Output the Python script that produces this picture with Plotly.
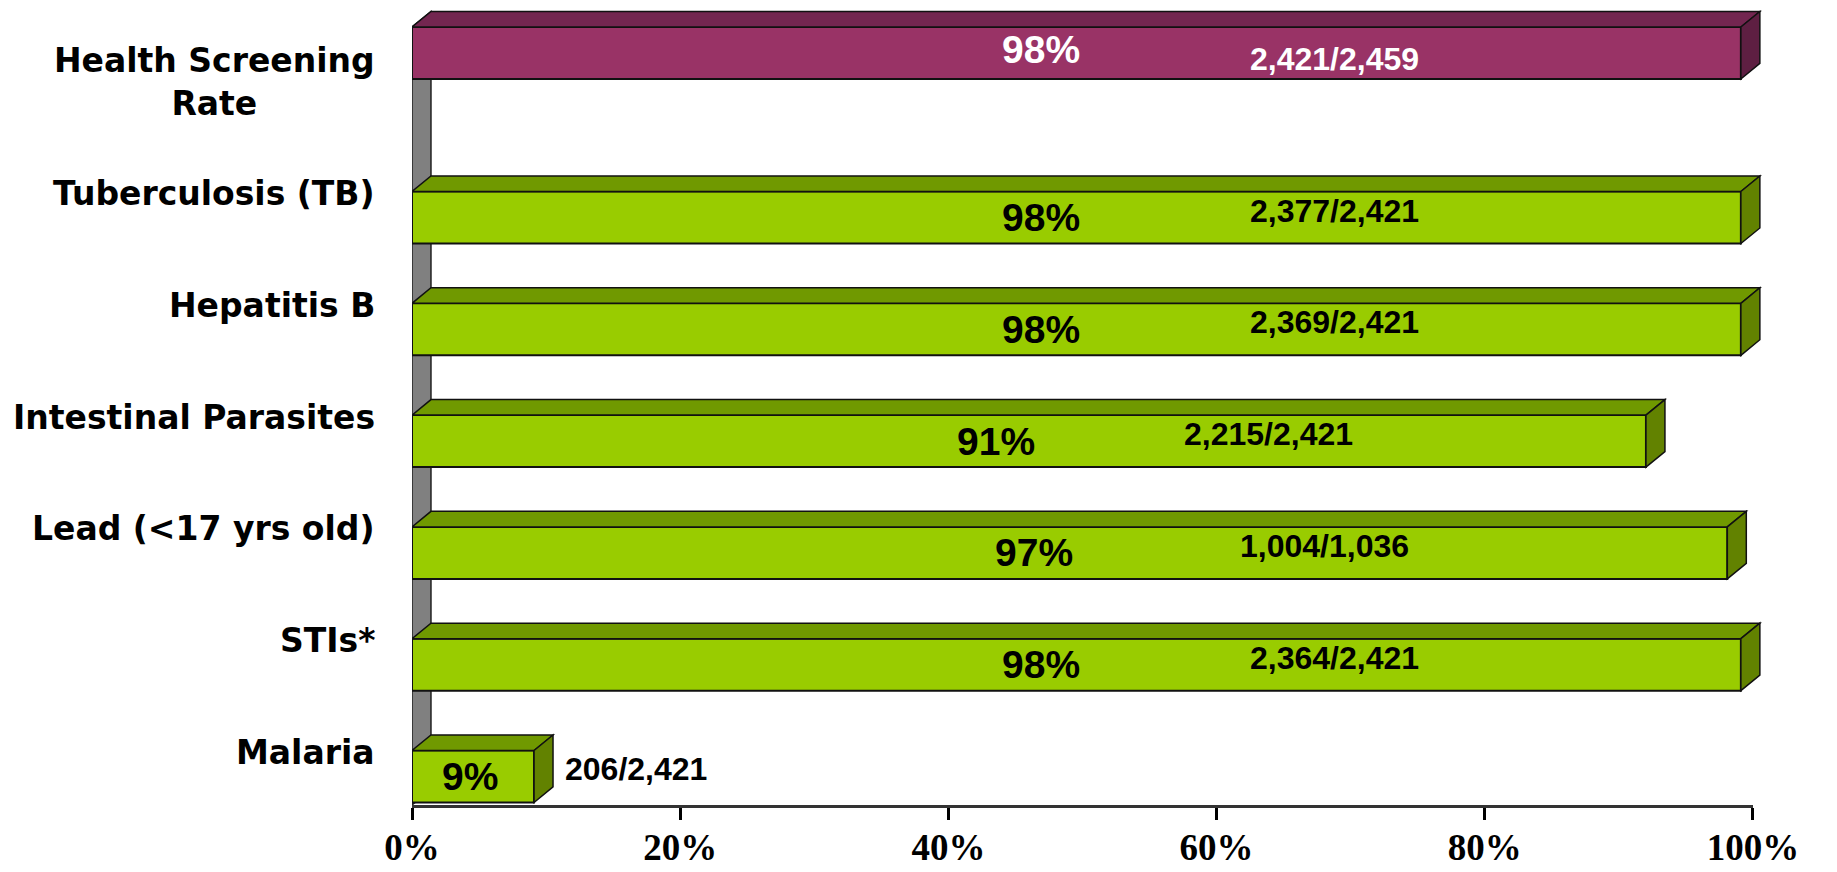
import plotly.graph_objects as go

categories = ["Health Screening<br>Rate", "Tuberculosis (TB)", "Hepatitis B",
              "Intestinal Parasites", "Lead (<17 yrs old)", "STIs*", "Malaria"]
percents = [98, 98, 98, 91, 97, 98, 9]
counts = ["2,421/2,459", "2,377/2,421", "2,369/2,421", "2,215/2,421",
          "1,004/1,036", "2,364/2,421", "206/2,421"]
x_ticks = [0, 20, 40, 60, 80, 100]

# look of the fake 3d bars
bar_w = 0.465
dx = 1.4      # depth, in % units
dy = 0.139    # depth, in category units
front = ["#993366"] + ["#99cc00"] * 6
top = ["#732650"] + ["#709900"] * 6
side = ["#5e1f42"] + ["#628200"] * 6
offsets = [-0.704] + [-bar_w / 2] * 6
txt_col = ["white"] + ["black"] * 6
y_lo, y_hi = 6.255, -0.874

fig = go.Figure()
fig.add_trace(go.Bar(x=percents, y=categories, orientation="h", width=bar_w,
                     offset=offsets, marker=dict(color=front, line=dict(color="#111111", width=2)),
                     hoverinfo="skip"))
# dummy trace so the tick axis (front plane of the 3d box) is drawn
fig.add_trace(go.Scatter(x=[None], y=[None], xaxis="x2", showlegend=False, hoverinfo="skip"))

shapes = []
# grey side wall
shapes.append(dict(type="path", xref="x", yref="y", layer="below",
                   path=f"M 0,{y_lo} L 0,{offsets[0]} L {dx},{offsets[0]-dy} L {dx},{y_lo-dy} Z",
                   fillcolor="#808080", line=dict(color="#222222", width=1.5)))
for i, v in enumerate(percents):
    lo = i + offsets[i]
    hi = lo + bar_w
    shapes.append(dict(type="path", xref="x", yref="y",
                       path=f"M 0,{lo} L {v},{lo} L {v+dx},{lo-dy} L {dx},{lo-dy} Z",
                       fillcolor=top[i], line=dict(color="#111111", width=1.5)))
    shapes.append(dict(type="path", xref="x", yref="y",
                       path=f"M {v},{lo} L {v+dx},{lo-dy} L {v+dx},{hi-dy} L {v},{hi} Z",
                       fillcolor=side[i], line=dict(color="#111111", width=1.5)))

ann = []
for i, name in enumerate(categories):
    ann.append(dict(x=0, xref="paper", y=i, yref="y", xanchor="right", yanchor="middle",
                    xshift=-35, yshift=24, align="center", showarrow=False,
                    text=name.replace("<17", "&lt;17"),
                    font=dict(family="DejaVu Sans", size=33, color="black", weight="bold")))
for i, v in enumerate(percents):
    mid = i + offsets[i] + bar_w / 2
    ann.append(dict(x=v * 0.473, y=mid, xref="x", yref="y", showarrow=False,
                    yshift=4 if i == 0 else 0, text=f"{v}%",
                    font=dict(family="Liberation Sans", size=39, color=txt_col[i], weight="bold")))
    if v > 20:
        ann.append(dict(x=v * 0.694, y=mid, xref="x", yref="y", showarrow=False,
                        yshift=-6 if i == 0 else 7, text=counts[i],
                        font=dict(family="Liberation Sans", size=32, color=txt_col[i], weight="bold")))
    else:
        ann.append(dict(x=v + dx + 0.7, y=mid, xref="x", yref="y", showarrow=False,
                        xanchor="left", yshift=7, text=counts[i],
                        font=dict(family="Liberation Sans", size=32, color=txt_col[i], weight="bold")))

fig.update_layout(
    width=1837, height=872,
    margin=dict(l=412, r=69, t=8, b=67, autoexpand=False),
    paper_bgcolor="white", plot_bgcolor="rgba(0,0,0,0)",
    showlegend=False, barmode="overlay",
    shapes=shapes, annotations=ann,
    xaxis=dict(range=[0, 100], visible=False, fixedrange=True),
    xaxis2=dict(anchor="y", domain=[0, 0.9889], range=[0, 100], fixedrange=True, automargin=False,
                tickvals=x_ticks, ticktext=[f"{t}%" for t in x_ticks],
                showline=True, linecolor="#333333", linewidth=3, showgrid=False, zeroline=False,
                ticks="outside", ticklen=12, tickwidth=3, tickcolor="black", ticklabelstandoff=-4,
                tickfont=dict(family="Liberation Serif", size=37, color="black", weight="bold")),
    yaxis=dict(type="category", categoryorder="array", categoryarray=categories,
               range=[y_lo, y_hi], visible=False, fixedrange=True),
)

fig.write_html("out.html", config={"displayModeBar": False},
               post_script="document.body.style.margin='0';document.body.style.overflow='hidden';")
